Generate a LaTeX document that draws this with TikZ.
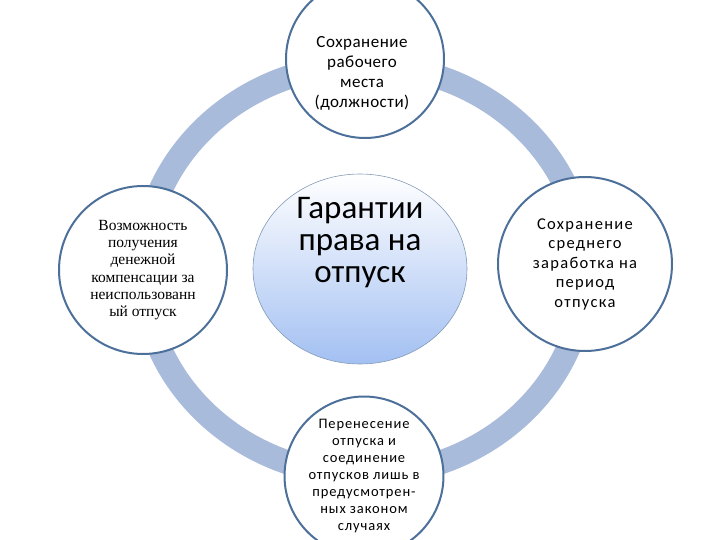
\documentclass[tikz,border=0pt]{standalone}
\usepackage{fontspec}
\setmainfont{Carlito}
\newfontfamily\timesru{Liberation Serif}
\usetikzlibrary{shapes.geometric}
\definecolor{ringblue}{HTML}{A9BBDB}
\definecolor{rimblue}{HTML}{4C7099}
\definecolor{capblue}{HTML}{A3C0F2}
\tikzset{
  bubble/.style={circle, draw=rimblue, line width=2pt, fill=white, align=center, inner sep=0pt},
  hub/.style={ellipse, draw=rimblue!70, line width=0.6pt, top color=white, bottom color=capblue,
    minimum width=214pt, minimum height=190pt}
}
\begin{document}
\begin{tikzpicture}[x=1pt,y=-1pt]
\useasboundingbox (0,0) rectangle (720,540);

% ring behind everything
\draw[ringblue, line width=24pt] (364,270) ellipse [x radius=221, y radius=205];

% the four satellites
\node[bubble, minimum size=158pt] (top) at (365,59) {};
\node[align=center, font=\fontsize{17}{20}\selectfont\addfontfeatures{LetterSpace=3}] (toptext) at (362,73)
  {Сохранение\\рабочего\\места\\(должности)};
\node[bubble, minimum size=168pt, font=\timesru\fontsize{15.5}{17.2}\selectfont] (left) at (143,270)
  {Возможность\\получения\\денежной\\компенсации за\\неиспользованн\\ый отпуск};
\node[bubble, minimum size=174pt, font=\fontsize{16.5}{19.5}\selectfont\addfontfeatures{LetterSpace=8}] (right) at (585,264)
  {Сохранение\\среднего\\заработка на\\период\\отпуска};
\node[bubble, minimum size=156pt, font=\fontsize{14.5}{17}\selectfont\addfontfeatures{LetterSpace=6}] (bottom) at (364,476)
  {Перенесение\\отпуска и\\соединение\\отпусков лишь в\\предусмотрен-\\ных законом\\случаях};

% the hub
\node[hub] (hub) at (360,269) {};
\node[align=center, font=\fontsize{33}{32}\selectfont] (hubtext) at (360,243)
  {Гарантии\\права на\\отпуск};
\end{tikzpicture}
\end{document}
